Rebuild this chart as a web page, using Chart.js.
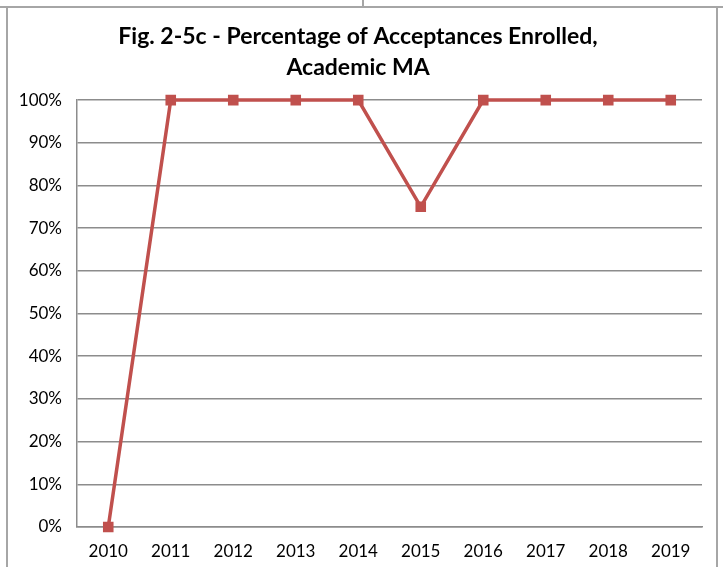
<!DOCTYPE html>
<html>
<head>
<meta charset="utf-8">
<script src="https://cdn.jsdelivr.net/npm/chart.js@4"></script>
<style>
  body { margin: 0; background: #fff; }
  #wrap { position: relative; width: 723px; height: 567px; overflow: hidden; }
  .ln { position: absolute; background: #a6a6a6; }
  canvas { position: absolute; left: 0; top: 0; }
</style>
</head>
<body>
<div id="wrap">
  <!-- frame lines around the chart -->
  <div class="ln" style="left:0; top:6px; width:723px; height:2px;"></div>
  <div class="ln" style="left:362px; top:0; width:2px; height:7px;"></div>
  <div class="ln" style="left:6px; top:6px; width:2px; height:561px;"></div>
  <div class="ln" style="left:716px; top:6px; width:2px; height:561px;"></div>
  <canvas id="acceptChart" width="723" height="567"></canvas>
</div>
<script>
// chart data
const years = ["2010", "2011", "2012", "2013", "2014", "2015", "2016", "2017", "2018", "2019"];
const pctEnrolled = [0, 100, 100, 100, 100, 75, 100, 100, 100, 100];
const titleLines = ["Fig. 2-5c - Percentage of Acceptances Enrolled,", "Academic MA"];

const fontFamily = "Lato, 'Open Sans', sans-serif";
const gridColor = "#8c8c8c";

let ctx = document.getElementById("acceptChart");

const data = {
  labels: years,
  datasets: [
    {
      label: "Academic MA",
      data: pctEnrolled,
      borderColor: "#C0504D",
      backgroundColor: "#C0504D",
      borderWidth: 3.5,
      pointStyle: "rect",
      pointRadius: 5,
      pointHoverRadius: 5,
      tension: 0,
      clip: false
    }
  ]
};

const config = {
  type: "line",
  data: data,
  options: {
    responsive: false,
    animation: false,
    // left/right padding keeps the title centred in the frame
    layout: { padding: { left: 14, right: 21, top: 4, bottom: 0 } },
    plugins: {
      legend: { display: false },
      tooltip: { enabled: false },
      title: {
        display: true,
        text: titleLines,
        color: "#000",
        font: { family: fontFamily, size: 23, weight: "bold", lineHeight: 1.35 },
        padding: { top: 17, bottom: 17 }
      }
    },
    scales: {
      x: {
        offset: true,
        grid: { display: false, drawTicks: false },
        border: { display: true, color: gridColor, width: 1.5 },
        ticks: { color: "#000", padding: 14, font: { family: fontFamily, size: 17 }, maxRotation: 0 },
        afterFit: (axis) => { axis.height = 40; }
      },
      y: {
        min: 0,
        max: 100,
        grid: { color: gridColor, lineWidth: 1.5, drawTicks: false },
        border: { display: true, color: gridColor, width: 1.5 },
        ticks: {
          stepSize: 10,
          color: "#000",
          padding: 15,
          font: { family: fontFamily, size: 17 },
          callback: (v) => v + "%"
        },
        afterFit: (axis) => { axis.width = 63; }
      }
    }
  }
};

const acceptChart = new Chart(ctx, config);
</script>
</body>
</html>
